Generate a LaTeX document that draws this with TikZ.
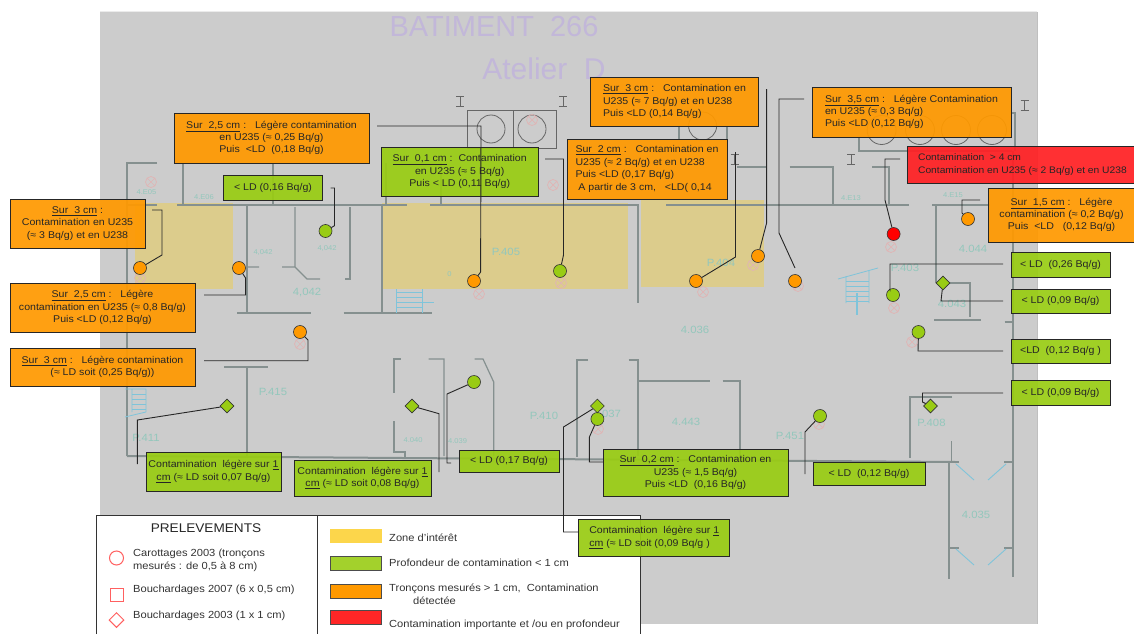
\documentclass[tikz,border=0pt]{standalone}
\usepackage{fontspec}
\setmainfont[FakeStretch=1.08]{Liberation Sans}
\newfontfamily\plainfont{Liberation Sans}
\usetikzlibrary{shapes.geometric}
\definecolor{planbg}{HTML}{CCCCCC}
\definecolor{zonecol}{HTML}{DCCC8C}
\definecolor{wallcol}{HTML}{85908F}
\definecolor{tealtxt}{HTML}{93C7BC}
\definecolor{bluecol}{HTML}{7FC4DA}
\definecolor{titlecol}{HTML}{C2B7D9}
\definecolor{hatchcol}{HTML}{E0B4B4}
\definecolor{orangebg}{HTML}{FF9900}
\definecolor{greenbg}{HTML}{99CC14}
\definecolor{redbg}{HTML}{FF2024}
\definecolor{keyred}{HTML}{FF6060}
\tikzset{
  infobox/.style={draw=black!85,line width=.8pt,inner sep=0pt,align=center,font=\fontsize{9.8}{12.4}\selectfont,text=black!85,fill opacity=.93,text opacity=1},
  orangebox/.style={infobox,fill=orangebg},
  greenbox/.style={infobox,fill=greenbg},
  redbox/.style={infobox,fill=redbg},
  probe/.style={circle,draw=black!80,inner sep=0pt,minimum size=13,line width=.6pt},
  cut/.style={diamond,draw=black!80,fill=greenbg,inner sep=0pt,minimum size=14,line width=.6pt},
  leader/.style={draw=black!85,line width=.9pt},
  wall/.style={draw=wallcol,line width=1.2pt},
  roomlbl/.style={text=tealtxt,font=\fontsize{8.5}{10}\selectfont},
  legendtxt/.style={anchor=west,inner sep=0pt,align=left,text=black!80,font=\fontsize{10.3}{12.5}\selectfont},
  swatch/.style={draw=black!70,line width=.8pt}
}
\begin{document}
\begin{tikzpicture}[x=1pt,y=-1pt]
\useasboundingbox (0,0) rectangle (1134,634);
\fill[planbg] (100,12) rectangle (1037,624);
\draw[black!25,line width=1pt] (1037,12) -- (1037,624);
\draw[white!92!black,line width=1pt] (100,12) -- (1037,12);
\node[text=titlecol,font=\plainfont\fontsize{29}{29}\selectfont] (title) at (494,27) {BATIMENT\ \ 266};
\node[text=titlecol,font=\plainfont\fontsize{30}{30}\selectfont] (atelier) at (544,69) {Atelier\ \ D};

\fill[zonecol] (134.5,203) rectangle (232.5,289);
\fill[zonecol] (381.5,203) rectangle (628,289);
\fill[zonecol] (641,200) rectangle (764,287);

% walls of the plan
\draw[wall] (157,163) -- (127,163) -- (127,456);
\draw[wall,line width=2pt] (127,205) -- (157,205) (177,205) -- (407,205) (430,205) -- (639,205) (666,205) -- (909,205) (932,205) -- (990,205);
\draw[wall] (183,163) -- (183,205) (273,163) -- (273,205) (386,163) -- (386,205) (441,163) -- (441,205);
\draw[wall,line width=2pt] (247,205) -- (247,313) (381.5,205) -- (381.5,313) (637.5,205) -- (637.5,303) (936,205) -- (936,283);
\draw[wall,line width=2pt] (237,313) -- (311,313) (343.5,313) -- (432,313);
\draw[wall] (295,207) -- (295,267) -- (307,279) -- (320,279) (282,267) -- (295,267) (246,267) -- (259,267);
\draw[wall] (350,207) -- (350,279) -- (345,279);
\draw[wall] (789.5,167) -- (833,167) -- (833,205) (872,167) -- (889,167) -- (889,205) (737,167) -- (766.6,167);
\draw[wall] (679,126) -- (679,139) (727,126) -- (727,139);
\draw[wall] (859,137) -- (859,151) -- (1012,151) (1011,113) -- (1015,113) -- (1015,151);
\draw[wall,line width=2pt] (1013,151) -- (1013,577);
\draw[wall] (943,283) -- (970,283) -- (970,317);
\draw[wall,line width=2pt] (934,320) -- (981,320) (1004.6,322) -- (1013,322);
\draw[wall,line width=2pt] (224,367) -- (267.6,367) (247,367) -- (247,456);
\draw[wall,line width=2pt] (127,456) -- (956,462);
\draw[wall] (400.7,359) -- (394,359) -- (394,393) (394,421) -- (394,452) -- (405,452) -- (405,458);
\draw[wall] (428.6,359) -- (444,359) -- (444,456) (474.5,359) -- (483,359) -- (493.7,382) -- (493.7,456);
\draw[wall] (588,360) -- (577,360) -- (577,457);
\draw[wall,line width=2pt] (628.5,360) -- (637.5,360) -- (637.5,456);
\draw[wall] (637.5,381) -- (710,381) (722.5,381) -- (740,381) -- (740,456);
\draw[wall] (952,397) -- (910,397) -- (910,458) (951.5,441) -- (951.5,462);
\draw[wall,line width=2pt] (948.5,462) -- (948.5,579) (948.5,548) -- (959,548) (1004,548) -- (1013,548) (948.5,462) -- (959,462) (1004,462) -- (1013,462);
\draw[black!60,line width=.7pt] (467.6,110) rectangle (556,148) (513.6,110) -- (513.6,148);
\draw[black!60,line width=.8pt] (491,129) circle (14) (532,129) circle (14) (702.6,126) circle (14);
\draw[black!60,line width=.8pt] (881.6,130) circle (14.5) (920,130) circle (14.5) (956,130) circle (14.5) (992,130) circle (14.5);
\foreach \ix/\iy in {460/101,563/101,1024.5/105,851/159,734.5/159}{
\draw[black!60,line width=.8pt] (\ix-4,\iy-5) -- (\ix+4,\iy-5) (\ix,\iy-5) -- (\ix,\iy+5) (\ix-4,\iy+5) -- (\ix+4,\iy+5);
}
\draw[bluecol,line width=.9pt] (956,464) -- (974,480) (1006,464) -- (988,480) (956,549) -- (974,565) (1006,549) -- (988,565);
% stairs
\draw[bluecol,line width=.8pt] (838,279) -- (878,268) (846,276) -- (846,303) (869,270) -- (869,303);
\foreach \i in {281,286,291,296,301}{\draw[bluecol,line width=.8pt] (846,\i) -- (869,\i);}
\draw[bluecol,line width=1.6pt] (857,293) -- (857,315);
\draw[bluecol,line width=.8pt] (396,289) -- (396,313) (422,289) -- (422,313) (396,302) -- (434,302);
\foreach \i in {292,297,302,307}{\draw[bluecol,line width=.8pt] (396,\i) -- (422,\i);}
\draw[bluecol,line width=.8pt] (125,389) -- (146,389) (125,417) -- (146,412) (132,389) -- (132,412) (146,389) -- (146,412);
\foreach \i in {394,399,404,409}{\draw[bluecol,line width=.8pt] (132,\i) -- (146,\i);}
% drilled points
\foreach \hx/\hy in {151/182,140/278,532/120,553/185,479/294,561/283,703/292,798/286,891/247,894/308,753/265,300/344,598/429,819/424,912/342}{
\draw[hatchcol,line width=.7pt] (\hx,\hy) circle (5.5) (\hx-3.8,\hy-3.8) -- (\hx+3.8,\hy+3.8) (\hx-3.8,\hy+3.8) -- (\hx+3.8,\hy-3.8);
}
\foreach \nn/\lx/\ly/\lbl in {r1/146.5/192/4.E05,r2/204/197/4.E06,r3/263/253/{4,042},r4/327/249/{4,042},r6/449.5/274/0,r9/851/198/4.E13,r10/953/195/4.E15,r13/413/440/4.040,r14/457.5/441/4.039}{
\node[roomlbl,font=\fontsize{7}{8}\selectfont] (\nn) at (\lx,\ly) {\lbl};
}
\foreach \nn/\lx/\ly/\lbl in {r5/307/293/{4,042},r7/506/252/P.405,r8/721/263/P.404,r11/973/249/4.044,r12/905/268/P.403,r15/952/304/4.043,r16/695/330/4.036,r17/273/392/P.415,r18/146/438/P.411,r19/544/416/P.410,r20/610/414/.037,r21/686/422/4.443,r22/790/436/P.451,r23/931.5/423/P.408,r24/976/515/4.035}{
\node[roomlbl,font=\fontsize{10.5}{12}\selectfont] (\nn) at (\lx,\ly) {\lbl};
}

% legend
\fill[white] (96,515) rectangle (640,634);
\draw[black!80,line width=.9pt] (96,634) -- (96,515) -- (640,515) -- (640,634) (317,515) -- (317,634);
\node[text=black!85,font=\fontsize{12.6}{13}\selectfont] (prel) at (206,528) {PRELEVEMENTS};
\node[circle,draw=keyred,line width=1pt,minimum size=14,inner sep=0pt] (kcirc) at (116.5,558) {};
\node[rectangle,draw=keyred,line width=1pt,minimum size=13,inner sep=0pt] (ksq) at (116.5,595) {};
\node[diamond,draw=keyred,line width=1pt,minimum size=15,inner sep=0pt] (kdia) at (116.5,620) {};
\node[legendtxt] (tcirc) at (133,560.5) {Carottages 2003 (tronçons\\mesurés : de 0,5 à 8 cm)};
\node[legendtxt] (tsq) at (133,590) {Bouchardages 2007 (6 x 0,5 cm)};
\node[legendtxt] (tdia) at (133,616) {Bouchardages 2003 (1 x 1 cm)};
\fill[yellow!60!orange!70!white] (330,529) rectangle (381.5,543);
\draw[swatch,fill=greenbg!90!white] (330,556) rectangle (381.5,570);
\draw[swatch,fill=orange!80!yellow] (330,584) rectangle (381.5,598);
\draw[swatch,fill=red!85!white] (330,610) rectangle (381.5,624);
\node[legendtxt] (tzone) at (389,538) {Zone d'intérêt};
\node[legendtxt] (tgreen) at (389,563) {Profondeur de contamination < 1 cm};
\node[legendtxt] (tor1) at (389,589) {Tronçons mesurés > 1 cm,\ \ Contamination};
\node[legendtxt] (tor2) at (413,601) {détectée};
\node[legendtxt] (tred) at (389,625) {Contamination importante et /ou en profondeur};

% boxes
\node[orangebox,minimum width=195,minimum height=50] (sur25a) at (271.5,138) {\underline{Sur\ \ 2,5 cm} :\ \ \ Légère contamination\\en U235 (≈ 0,25 Bq/g)\\Puis\ \ <LD\ \ (0,18 Bq/g)};
\node[greenbox,minimum width=99,minimum height=25] (ld016) at (273,187.5) {< LD (0,16 Bq/g)};
\node[greenbox,minimum width=156.5,minimum height=49] (sur01) at (459.7,171.5) {\underline{Sur\ \ 0,1 cm} :\ \ Contamination\\en U235 (≈ 5 Bq/g)\\Puis < LD (0,11 Bq/g)};
\node[orangebox,minimum width=135,minimum height=49] (sur3a) at (77.5,223.5) {\underline{Sur\ \ 3 cm} :\\Contamination en U235\\(≈ 3 Bq/g) et en U238};
\node[orangebox,minimum width=185,minimum height=49] (sur25b) at (102.5,307.5) {\underline{Sur\ \ 2,5 cm} :\ \ \ Légère\\contamination en U235 (≈ 0,8 Bq/g)\\Puis <LD (0,12 Bq/g)};
\node[orangebox,minimum width=185,minimum height=38] (sur3b) at (102.5,367) {\underline{Sur\ \ 3 cm} :\ \ \ Légère contamination\\(≈ LD soit (0,25 Bq/g))};
\node[orangebox,minimum width=168,minimum height=49,align=left] (sur3c) at (674.5,101.5) {\underline{Sur\ \ 3 cm} :\ \ \ Contamination en\\U235 (≈ 7 Bq/g) et en U238\\Puis <LD (0,14 Bq/g)};
\node[orangebox,minimum width=160,minimum height=60,align=left] (sur2) at (647,169) {\underline{Sur\ \ 2 cm} :\ \ \ Contamination en\\U235 (≈ 2 Bq/g) et en U238\\Puis <LD (0,17 Bq/g)\\\ A partir de 3 cm,\ \ \ <LD( 0,14};
\node[orangebox,minimum width=199,minimum height=50,align=left] (sur35) at (911.5,112) {\underline{Sur\ \ 3,5 cm} :\ \ \ Légère Contamination\\en U235 (≈ 0,3 Bq/g)\\Puis <LD (0,12 Bq/g)};
\node[redbox,minimum width=228,minimum height=37,align=left,font=\fontsize{9.5}{12.4}\selectfont] (contred) at (1021,164.5) {\ Contamination\ \ > 4 cm\\\ Contamination en U235 (≈ 2 Bq/g) et en U238};
\node[orangebox,minimum width=147,minimum height=54] (sur15) at (1061.5,215) {\underline{Sur\ \ 1,5 cm} :\ \ \ Légère\\contamination (≈ 0,2 Bq/g)\\Puis\ \ <LD\ \ \ (0,12 Bq/g)};
\node[greenbox,minimum width=99,minimum height=25] (ld026) at (1060.5,264.5) {< LD\ \ (0,26 Bq/g)};
\node[greenbox,minimum width=99,minimum height=24] (ld009a) at (1060.5,301) {< LD (0,09 Bq/g)};
\node[greenbox,minimum width=99,minimum height=24] (ld012a) at (1060.5,351) {<LD\ \ (0,12 Bq/g )};
\node[greenbox,minimum width=99,minimum height=25] (ld009b) at (1060.5,392.5) {< LD (0,09 Bq/g)};
\node[greenbox,minimum width=185,minimum height=47] (sur02) at (695.5,472.5) {\underline{Sur\ \ 0,2 cm} :\ \ \ Contamination en\\U235 (≈ 1,5 Bq/g)\\Puis <LD\ \ (0,16 Bq/g)};
\node[greenbox,minimum width=112,minimum height=23] (ld012b) at (869,473.5) {< LD\ \ (0,12 Bq/g)};
\node[greenbox,minimum width=151,minimum height=37,align=left] (clegb) at (654.3,537.5) {Contamination\ \ légère sur \underline{1}\hspace{8pt}\\\underline{cm} (≈ LD soit (0,09 Bq/g )};
\node[greenbox,minimum width=135,minimum height=39] (clega) at (213.5,471.5) {Contamination\ \ légère sur \underline{1}\\\underline{cm} (≈ LD soit 0,07 Bq/g)};
\node[greenbox,minimum width=137,minimum height=36] (clegc) at (362.5,478) {Contamination\ \ légère sur \underline{1}\\\underline{cm} (≈ LD soit 0,08 Bq/g)};
\node[greenbox,minimum width=100,minimum height=22] (ld017) at (509,461) {< LD (0,17 Bq/g)};

% probes
\foreach \nn/\mx/\my/\col in {p1/140/268/orangebg,p2/239/268/orangebg,p4/474/281/orangebg,p6/696/281/orangebg,p7/758/256/orangebg,p8/795/281/orangebg,p10/968/219/orangebg,p13/300/332/orangebg,p3/325.5/231/greenbg,p5/560/271/greenbg,p11/893/295/greenbg,p14/474/382/greenbg,p15/918.5/332/greenbg,p16/597.4/419/greenbg,p17/820/416/greenbg,p9/893.6/234/red}{
\node[probe,fill=\col] (\nn) at (\mx,\my) {};
}
\foreach \nn/\mx/\my in {c1/943/283,c2/227/406,c3/412/406,c4/597.4/406,c5/930.5/406}{
\node[cut] (\nn) at (\mx,\my) {};
}

% leaders
\coordinate (e1) at (152,210);
\coordinate (e2) at (204,295);
\coordinate (e3) at (377,126);
\coordinate (e4) at (330.6,188);
\coordinate (e5) at (545,159);
\coordinate (e6) at (766.6,89);
\coordinate (e7) at (804,99);
\coordinate (e7b) at (795,268);
\coordinate (e8) at (735.5,152);
\coordinate (e9) at (900,159);
\coordinate (e10) at (980,200);
\coordinate (e11) at (1003,264);
\coordinate (e12) at (1003,301);
\coordinate (e13) at (204,360.7);
\coordinate (e14) at (137.4,464);
\coordinate (e15) at (439,472);
\coordinate (e16) at (451,463);
\coordinate (e17) at (578.6,532);
\coordinate (e18) at (603,462);
\coordinate (e19) at (805,474);
\coordinate (e20) at (1003,351);
\coordinate (e21) at (1003,393);
\draw[leader] (e1) -- (162,210) -- (162,255) -- (p1);
\draw[leader] (e2) -- (245.6,295) -- (245.6,278) -- (p2);
\draw[leader] (e3) -- (481,126) -- (480.6,272) -- (p4);
\draw[leader] (e4) -- (334.5,188) -- (334.5,225.7) -- (p3);
\draw[leader] (e5) -- (563.5,159) -- (563.5,255) -- (p5);
\draw[leader] (e6) -- (766.6,223) -- (p7);
\draw[leader] (e7) -- (779,99) -- (779,233) -- (e7b);
\draw[leader] (e8) -- (735.5,257) -- (p6);
\draw[leader] (e9) -- (885,159) -- (885,200) -- (p9);
\draw[leader] (e10) -- (962,200) -- (962,213) -- (p10);
\draw[leader] (e11) -- (890,264) -- (890,290) -- (p11);
\draw[leader] (e12) -- (941,301) -- (c1);
\draw[leader] (e13) -- (308,360.7) -- (308,340) -- (p13);
\draw[leader] (e14) -- (137.4,420) -- (c2);
\draw[leader] (e15) -- (439,413.7) -- (c3);
\draw[leader] (e16) -- (447,463) -- (447,394) -- (p14);
\draw[leader] (e17) -- (563.5,532) -- (563.5,427) -- (c4);
\draw[leader] (e18) -- (589.4,462) -- (589.4,437) -- (p16);
\draw[leader] (e19) -- (805,432) -- (p17);
\draw[leader] (e20) -- (918,351) -- (p15);
\draw[leader] (e21) -- (922.5,393) -- (922.5,402) -- (c5);
\end{tikzpicture}
\end{document}
